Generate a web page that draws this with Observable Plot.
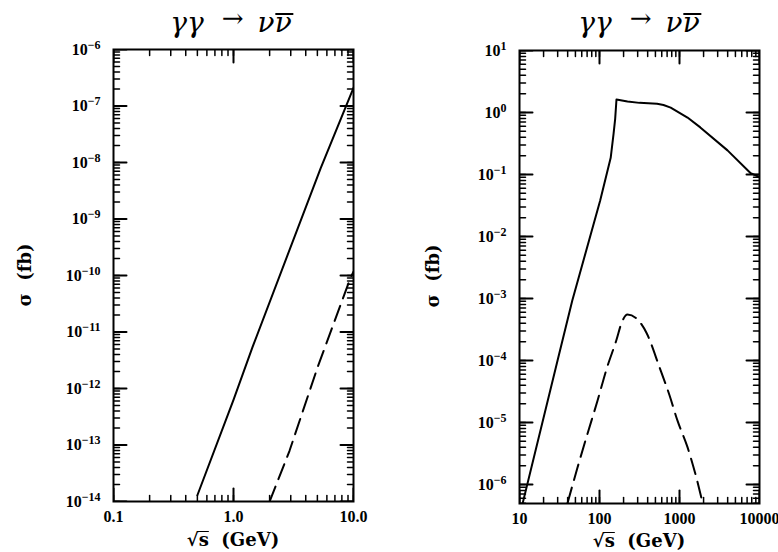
<!DOCTYPE html>
<html><head><meta charset="utf-8">
<script src="https://cdn.jsdelivr.net/npm/d3@7"></script>
<script src="https://cdn.jsdelivr.net/npm/@observablehq/plot@0.6"></script>
<style>
body{margin:0;background:#fff;}
#wrap{position:relative;width:778px;height:552px;overflow:hidden;background:#fff;}
.panel{position:absolute;top:0;}
.title{position:absolute;top:9px;font-family:"DejaVu Serif";font-style:italic;font-size:28px;white-space:nowrap;transform:translateX(-50%);line-height:1;color:#000;}
.title .arr{font-style:normal;font-size:26px;margin:0 14px 0 18px;position:relative;top:-5px;}
.ov{position:relative;}
.title .ov::before{content:"";position:absolute;left:1px;right:-2px;top:7px;border-top:2px solid #000;}
.xlab{position:absolute;font-family:"DejaVu Serif";font-weight:bold;font-size:18px;white-space:nowrap;transform:translate(-50%,-50%);line-height:1;color:#000;}
.xlab .ov::before{content:"";position:absolute;left:-1px;right:0;top:2px;border-top:1.5px solid #000;}
.ylab{position:absolute;font-family:"DejaVu Serif";font-weight:bold;font-size:18px;white-space:nowrap;transform:translate(-50%,-50%) rotate(-90deg);line-height:1;color:#000;}
</style>
</head><body>
<div id="wrap">
  <div class="panel" id="left" style="left:0"></div>
  <div class="panel" id="right" style="left:389px"></div>
  <div class="title" style="left:231px">γγ<span class="arr">→</span>ν<span class="ov">ν</span></div>
  <div class="title" style="left:639px">γγ<span class="arr">→</span>ν<span class="ov">ν</span></div>
  <div class="ylab" style="left:25px;top:275px">σ&nbsp;&nbsp;(fb)</div>
  <div class="ylab" style="left:433px;top:276px">σ&nbsp;&nbsp;(fb)</div>
  <div class="xlab" style="left:233px;top:540px">√<span class="ov">s</span>&nbsp;&nbsp;(GeV)</div>
  <div class="xlab" style="left:639px;top:541px">√<span class="ov">s</span>&nbsp;&nbsp;(GeV)</div>
</div>
<script>
// ---------- data ----------
// left panel: sqrt(s) in GeV, sigma in fb
const leftSolidX = [0.50, 1.0, 1.44, 5.31, 10.0];
const leftSolidY = [1.29e-14, 6.3e-13, 5.4e-12, 7.8e-9, 2.1e-7];
const leftDashedX = [2.0, 2.93, 5.01, 9.44, 10.0];
const leftDashedY = [1.0e-14, 7.9e-14, 2.34e-12, 9.1e-11, 1.17e-10];

// right panel
const rightSolidX = [10, 10.96, 29.9, 45.7, 102, 138, 150, 157, 163, 224, 316, 525, 631, 776, 1259, 1820, 3981, 7762, 10000];
const rightSolidY = [3.1e-7, 5.0e-7, 1.0e-4, 9.3e-4, 0.038, 0.186, 0.457, 0.79, 1.62, 1.50, 1.43, 1.38, 1.32, 1.20, 0.83, 0.575, 0.245, 0.105, 0.091];
const rightDashedX = [39.8, 53, 70.8, 94.4, 123, 162, 191, 224, 288, 389, 562, 750, 944, 1259, 1622, 1950];
const rightDashedY = [5.0e-7, 1.86e-6, 6.6e-6, 2.24e-5, 7.4e-5, 2.1e-4, 4.2e-4, 5.5e-4, 4.8e-4, 2.75e-4, 7.8e-5, 2.75e-5, 1.07e-5, 4.0e-6, 1.3e-6, 5.0e-7];

// ticks
const xTicksL = [0.1, 1, 10];
const xTickLabelsL = ["0.1", "1.0", "10.0"];
const yTicksL = [1e-14, 1e-13, 1e-12, 1e-11, 1e-10, 1e-9, 1e-8, 1e-7, 1e-6];
const yExpL = ["-14", "-13", "-12", "-11", "-10", "-9", "-8", "-7", "-6"];
const xTicksR = [10, 100, 1000, 10000];
const xTickLabelsR = ["10", "100", "1000", "10000"];
const yTicksR = [1e-6, 1e-5, 1e-4, 1e-3, 1e-2, 1e-1, 1, 10];
const yExpR = ["-6", "-5", "-4", "-3", "-2", "-1", "0", "1"];

// ---------- drawing ----------
const pts = (X, Y) => X.map((x, i) => ({x, y: Y[i]}));
const MAJ = 13, MIN = 6;

// inward tick segments along all four frame sides, built from the tick values and the scale domains
function tickSegments(xDom, yDom, xMaj, yMaj, FW, FH) {
  const xMinor = d3.scaleLog().domain(xDom).ticks();
  const yMinor = d3.scaleLog().domain(yDom).ticks();
  const decX = FW / Math.log10(xDom[1] / xDom[0]);
  const decY = FH / Math.log10(yDom[1] / yDom[0]);
  const fx = len => Math.pow(10, len / decX), fy = len => Math.pow(10, len / decY);
  const segs = {minor: [], major: []};
  let id = 0;
  for (const [kind, tx, ty, len] of [["minor", xMinor, yMinor, MIN], ["major", xMaj, yMaj, MAJ]]) {
    for (const x of tx) {
      segs[kind].push({id, x, y: yDom[0]}, {id, x, y: yDom[0] * fy(len)}); id++;
      segs[kind].push({id, x, y: yDom[1]}, {id, x, y: yDom[1] / fy(len)}); id++;
    }
    for (const y of ty) {
      segs[kind].push({id, x: xDom[0], y}, {id, x: xDom[0] * fx(len), y}); id++;
      segs[kind].push({id, x: xDom[1], y}, {id, x: xDom[1] / fx(len), y}); id++;
    }
  }
  return segs;
}

function frameAxes(xDom, yDom, xT, xLab, yT, yExp, FW, FH) {
  const segs = tickSegments(xDom, yDom, xT, yT, FW, FH);
  return [
    Plot.line(segs.minor, {x: "x", y: "y", z: "id", stroke: "black", strokeWidth: 1.5, clip: true}),
    Plot.line(segs.major, {x: "x", y: "y", z: "id", stroke: "black", strokeWidth: 2, clip: true}),
    Plot.axisX(xT, {anchor: "bottom", tickSize: 0, tickPadding: 9, tickFormat: d => xLab[xT.indexOf(d)], label: null}),
    Plot.axisY(yT, {anchor: "left", tickSize: 0, tickPadding: 13, tickFormat: d => "10^" + yExp[yT.indexOf(d)], label: null}),
    Plot.frame({stroke: "black", strokeWidth: 2})
  ];
}

function superscripts(svg) {
  svg.querySelectorAll('g[aria-label="y-axis tick label"] text').forEach(t => {
    const s = t.textContent;
    if (!s.includes("^")) return;
    const [b, e] = s.split("^");
    t.textContent = b;
    const ts = document.createElementNS("http://www.w3.org/2000/svg", "tspan");
    ts.setAttribute("dy", "-0.5em");
    ts.setAttribute("font-size", "12");
    ts.textContent = e.replace("-", "\u2212");
    t.appendChild(ts);
  });
  return svg;
}

const styleL = {fontFamily: "'Liberation Serif', serif", fontWeight: "bold", fontSize: "16px", color: "black", background: "white", overflow: "visible"};
const styleR = {fontFamily: "'Liberation Serif', serif", fontWeight: "bold", fontSize: "16px", color: "black", background: "white", overflow: "visible"};

const xDomL = [0.1, 10], yDomL = [1e-14, 1e-6];
const left = Plot.plot({
  width: 389, height: 552,
  marginLeft: 113, marginRight: 36, marginTop: 49, marginBottom: 51,
  style: styleL,
  x: {type: "log", domain: xDomL, label: null},
  y: {type: "log", domain: yDomL, label: null},
  marks: [
    Plot.line(pts(leftSolidX, leftSolidY), {x: "x", y: "y", stroke: "black", strokeWidth: 2, clip: true}),
    Plot.line(pts(leftDashedX, leftDashedY), {x: "x", y: "y", stroke: "black", strokeWidth: 2, strokeDasharray: "16,8", clip: true}),
    ...frameAxes(xDomL, yDomL, xTicksL, xTickLabelsL, yTicksL, yExpL, 389 - 113 - 36, 552 - 49 - 51)
  ]
});
document.getElementById("left").appendChild(superscripts(left));

const xDomR = [10, 10000], yDomR = [4.94e-7, 10];
const right = Plot.plot({
  width: 389, height: 552,
  marginLeft: 130, marginRight: 19, marginTop: 50, marginBottom: 49,
  style: styleR,
  x: {type: "log", domain: xDomR, label: null},
  y: {type: "log", domain: yDomR, label: null},
  marks: [
    Plot.line(pts(rightSolidX, rightSolidY), {x: "x", y: "y", stroke: "black", strokeWidth: 2, clip: true}),
    Plot.line(pts(rightDashedX, rightDashedY), {x: "x", y: "y", stroke: "black", strokeWidth: 2, strokeDasharray: "16,8", curve: "monotone-x", clip: true}),
    ...frameAxes(xDomR, yDomR, xTicksR, xTickLabelsR, yTicksR, yExpR, 389 - 130 - 19, 552 - 50 - 49)
  ]
});
document.getElementById("right").appendChild(superscripts(right));
</script>
</body></html>
